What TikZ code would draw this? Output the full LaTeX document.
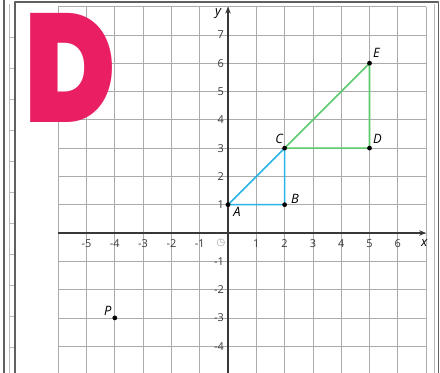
\documentclass[tikz,border=0pt]{standalone}
\usepackage{fontspec}
\setmainfont{Open Sans}
\newfontfamily\symfont{DejaVu Sans}
\newfontfamily\bigfont{Poppins Black}[FakeStretch=0.8]
\usetikzlibrary{arrows.meta}
\definecolor{pinkD}{HTML}{E91E63}
\definecolor{triblue}{HTML}{2BB3E6}
\definecolor{trigreen}{HTML}{5CC96A}
\definecolor{axisgray}{HTML}{383838}
\definecolor{gridgray}{HTML}{ABABAB}

\begin{document}
\begin{tikzpicture}[line join=round,
  gridline/.style={gridgray, line width=0.75pt},
  axisline/.style={axisgray, line width=1.4pt, -{Stealth[length=7pt,width=5.5pt]}},
  framedark/.style={gray!75!black, line width=1.2pt},
  framelight/.style={gray!55, line width=0.8pt},
  ticklabel/.style={text=axisgray, font=\fontsize{11}{13}\selectfont, inner sep=0.5pt},
  ptlabel/.style={font=\fontsize{13}{15}\selectfont\itshape, inner sep=0pt},
  dot/.style={circle, fill=black, inner sep=0pt, minimum size=4.8pt}]
  \useasboundingbox (-8.057,-4.947) rectangle (7.491,8.233);
  % the frame
  \draw[framedark] (-7.915,-4.947)--(-7.915,8.233);
  \draw[framelight] (-7.721,-4.947)--(-7.721,8.1);
  \foreach \k in {0,...,10} \draw[framelight] (-7.721,{6.926-1.0954*\k})--(-7.527,{6.926-1.0954*\k});
  \draw[framedark] (-7.527,-4.947)--(-7.527,8.163)--(7.438,8.163)--(7.438,-4.947);
  \draw[framelight] (7.297,-4.947)--(7.297,8.1);
  % the grid and the axes
  \draw[gridline] (-6,-4.95) grid (7,8);
  \draw[gridline] (-6,8)--(7,8);
  \draw[axisline] (-6,0)--(7,0);
  \draw[axisline] (0,-4.95)--(0,8);
  \foreach \x in {-5,...,-1,1,2,...,6} \node[ticklabel] (tx\x) at (\x,-0.38) {\x};
  \foreach \y in {-4,...,-1,1,2,...,7} \node[ticklabel, anchor=east] (ty\y) at (-0.12,\y) {\y};
  \node[text=gray!75, font=\symfont\fontsize{10}{12}\selectfont, inner sep=0pt] (orig) at (-0.25,-0.36) {◷};
  \node[ptlabel] (xlab) at (6.93,-0.35) {x};
  \node[ptlabel] (ylab) at (-0.35,7.77) {y};
  % the big letter
  \fill[white] (-6.64,4.35) rectangle (-4.52,7.42);
  \node[text=pinkD, font=\bigfont\fontsize{155}{155}\selectfont, inner sep=0pt] (bigD) at (-5.57,5.83) {D};
  % the points
  \coordinate (A) at (0,1);
  \coordinate (B) at (2,1);
  \coordinate (C) at (2,3);
  \coordinate (D) at (5,3);
  \coordinate (E) at (5,6);
  \coordinate (P) at (-4,-3);
  \draw[triblue, line width=1.6pt] (A)--(B)--(C)--cycle;
  \draw[trigreen, line width=1.6pt] (C)--(D)--(E)--cycle;
  \foreach \p in {A,B,C,D,E,P} \node[dot] (dot\p) at (\p) {};
  \node[ptlabel] (labA) at ([shift={(0.32,-0.25)}]A) {A};
  \node[ptlabel] (labB) at ([shift={(0.37,0.21)}]B) {B};
  \node[ptlabel] (labC) at ([shift={(-0.19,0.32)}]C) {C};
  \node[ptlabel] (labD) at ([shift={(0.28,0.32)}]D) {D};
  \node[ptlabel] (labE) at ([shift={(0.25,0.35)}]E) {E};
  \node[ptlabel] (labP) at ([shift={(-0.25,0.25)}]P) {P};
\end{tikzpicture}
\end{document}
